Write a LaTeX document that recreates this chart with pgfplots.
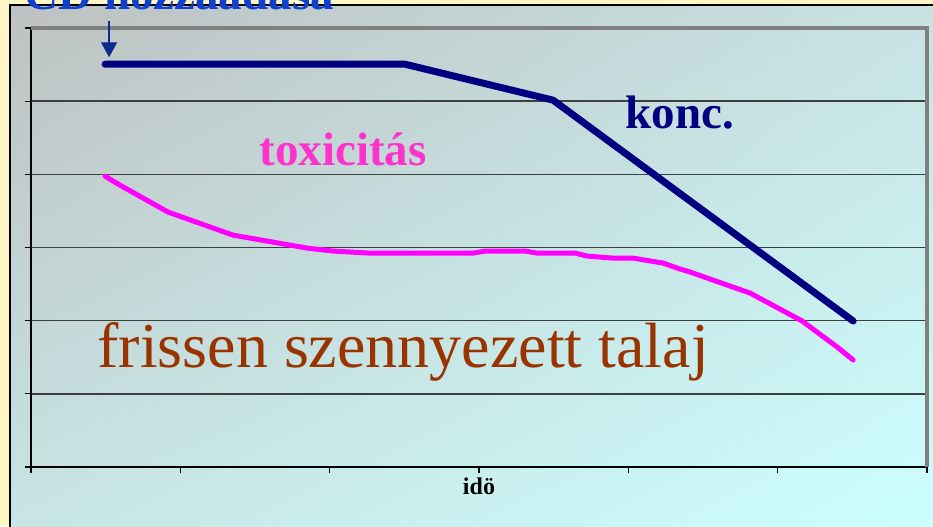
\documentclass[border=0pt]{standalone}
\usepackage{pgfplots}
\pgfplotsset{compat=1.18}
\usepackage{fontspec}
\setmainfont{Liberation Serif}
\usetikzlibrary{arrows.meta,shadings}
\definecolor{bgyellow}{RGB}{255,246,196}
\definecolor{konccol}{RGB}{0,0,128}
\definecolor{toxcol}{RGB}{255,0,255}
\definecolor{toxtxt}{RGB}{255,51,204}
\definecolor{frisscol}{RGB}{153,51,0}
\definecolor{cdblue}{RGB}{16,64,208}
\definecolor{gridcol}{RGB}{60,64,64}
\definecolor{shUL}{RGB}{190,193,193}
\definecolor{shUR}{RGB}{200,226,226}
\definecolor{shLL}{RGB}{200,228,228}
\definecolor{shLR}{RGB}{204,255,255}
\begin{document}
\begin{tikzpicture}
\useasboundingbox (0,0) rectangle (466.5pt,263pt);
% outer yellow background
\fill[bgyellow] (0,0) rectangle (466.5pt,263pt);
% chart area gradient
\shade[upper left=shUL, upper right=shUR, lower left=shLL, lower right=shLR]
  (5pt,0pt) rectangle (466.5pt,260.5pt);
\draw[black, line width=0.6pt] (5pt,-2pt) -- (5pt,260.5pt) -- (470pt,260.5pt);
\begin{axis}[
  at={(15.5pt,29.5pt)}, anchor=south west,
  scale only axis, width=448pt, height=219.5pt,
  xmin=0, xmax=6, ymin=0, ymax=6,
  xtick={0,1,2,3,4,5,6}, ytick={0,1,2,3,4,5,6},
  xticklabels={}, yticklabels={},
  axis x line*=bottom, axis y line*=left,
  axis line style={black, line width=1pt},
  tick align=outside, major tick length=3pt,
  tick style={black, line width=0.6pt},
  ymajorgrids, grid style={gridcol, line width=0.7pt},
  clip=false,
]
\draw[gray, line width=2pt] (rel axis cs:0,1) -- (rel axis cs:1,1) -- (rel axis cs:1,0);
\addplot[konccol, line width=3.5pt, line cap=round, line join=round] coordinates {
 (0.496,5.505) (2.505,5.505) (3.496,5.014) (5.506,1.995)};
\addplot[toxcol, line width=2.5pt, line cap=round, line join=round] coordinates {
 (0.496,3.975) (0.596,3.852) (0.918,3.484) (1.353,3.169) (1.849,2.992)
 (2.023,2.951) (2.271,2.923) (2.960,2.923) (3.041,2.951) (3.309,2.951)
 (3.389,2.923) (3.644,2.923) (3.724,2.883) (3.898,2.855) (4.032,2.855)
 (4.233,2.787) (4.347,2.705) (4.394,2.678) (4.816,2.377) (5.164,1.995)
 (5.399,1.639) (5.506,1.462)};
\draw[cdblue!70!black, line width=0.7pt, -{Triangle[length=7.5pt,width=8pt]}] (axis cs:0.523,6.1) -- (axis cs:0.523,5.6);
\node[anchor=base west, inner sep=0, text=konccol, font=\bfseries\fontsize{23.5}{28}\selectfont] at (axis cs:3.98,4.63) {konc.};
\node[anchor=base west, inner sep=0, text=toxtxt, font=\bfseries\fontsize{23.5}{28}\selectfont] at (axis cs:1.527,4.126) {toxicitás};
\node[anchor=base west, inner sep=0, text=frisscol, font=\fontsize{32}{36}\selectfont] at (axis cs:0.442,1.36) {frissen szennyezett talaj};
\node[inner sep=0, font=\bfseries\fontsize{12}{14}\selectfont] at (axis cs:3,-0.27) {idö};
\end{axis}
\begin{scope}
\clip (0,0) rectangle (466.5pt,263pt);
\node[anchor=base west, inner sep=0, text=cdblue, font=\bfseries\fontsize{23.5}{28}\selectfont] at (12pt,258pt) {CD hozzáadása};
\end{scope}
\end{tikzpicture}
\end{document}
